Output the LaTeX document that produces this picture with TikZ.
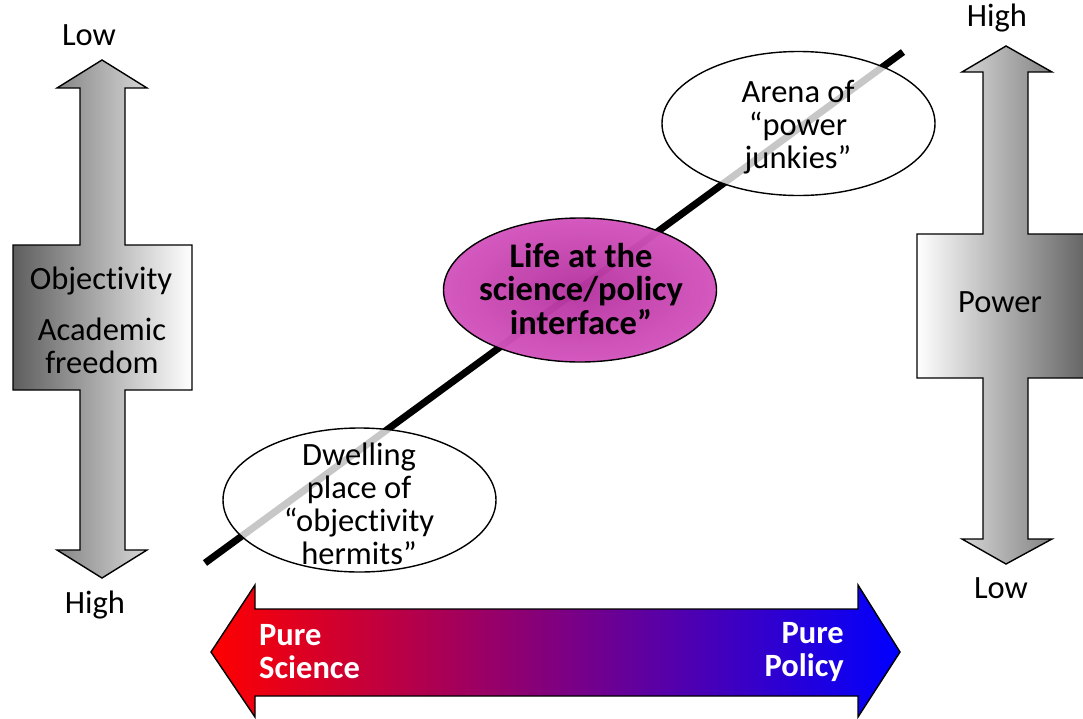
\documentclass[tikz,border=0pt]{standalone}
\usepackage{fontspec}
\setmainfont{Carlito}[Ligatures={NoCommon}]
\usetikzlibrary{shapes.geometric}
\definecolor{pinkin}{HTML}{A8108E}
\definecolor{pinkout}{HTML}{CC36B2}
\definecolor{darkgr}{HTML}{5E5E5E}
\tikzset{
  txt/.style={font=\fontsize{32.5}{33}\selectfont, inner sep=0pt, align=center},
  bigarrow/.style={draw=black, line width=1.4pt, line join=miter},
  oval/.style={ellipse, draw=black, line width=1.4pt, minimum width=273pt, minimum height=144pt,
     fill=white, fill opacity=0.78, inner sep=0pt},
}
\begin{document}
\begin{tikzpicture}[x=1pt,y=-1pt]
\useasboundingbox (0,0) rectangle (1083,718);
\clip (0,0) rectangle (1083,718);
% left vertical arrow
\shade[bigarrow, left color=darkgr, right color=white]
  (102,60) -- (147,88) -- (125,88) -- (125,245) -- (192,245) -- (192,390) -- (125,390)
  -- (125,550) -- (147,550) -- (102,578) -- (57,550) -- (80,550) -- (80,390) -- (13,390)
  -- (13,245) -- (80,245) -- (80,88) -- (57,88) -- cycle;
% right vertical arrow
\shade[bigarrow, left color=white, right color=darkgr]
  (1006,46) -- (1052,72) -- (1028,72) -- (1028,234) -- (1092,234) -- (1092,378) -- (1028,378)
  -- (1028,539) -- (1052,539) -- (1006,564) -- (962,539) -- (983,539) -- (983,378) -- (917,378)
  -- (917,234) -- (983,234) -- (983,72) -- (962,72) -- cycle;
% bottom horizontal arrow
\shade[bigarrow, left color=red, right color=blue]
  (211,652) -- (255,585) -- (255,609) -- (858,609) -- (858,585) -- (900,652)
  -- (858,717) -- (858,696) -- (255,696) -- (255,717) -- cycle;
% labels of vertical arrows
\node[txt] (lowL) at (89,35) {Low};
\node[txt] (highL) at (95,605) {High};
\node[txt] (obj) at (101,281) {Objectivity};
\node[txt] (acad) at (102,346) {Academic\\freedom};
\node[txt] (highR) at (997,18) {High};
\node[txt] (lowR) at (1001,588) {Low};
\node[txt] (power) at (1000,302) {Power};
% bottom arrow labels
\node[txt, anchor=west, align=left, text=white, font=\fontsize{32.5}{33}\selectfont\bfseries] (sci) at (259,652) {Pure\\Science};
\node[txt, anchor=east, align=right, text=white, font=\fontsize{32.5}{33}\selectfont\bfseries] (pol) at (844,652) {Pure\\Policy};
% diagonal line
\coordinate (ls) at (205,563);
\coordinate (le) at (903,52);
\draw[line width=7pt] (ls) -- (le);
% ellipses
\node[oval] (dwell) at (359.5,500) {};
\node[oval] (arena) at (798.5,123.5) {};
\node[oval, fill opacity=0.82, inner color=pinkin, outer color=pinkout] (life) at (580,290) {};
% ellipse texts
\node[txt] (dwellt) at (359,504) {Dwelling\\place of\\“objectivity\\hermits”};
\node[txt] (arenat) at (798,127) {Arena of\\“power\\junkies”};
\node[txt, font=\fontsize{34.5}{33.5}\selectfont\bfseries] (lifet) at (581,289) {Life at the\\science/policy\\interface”};
\end{tikzpicture}
\end{document}
